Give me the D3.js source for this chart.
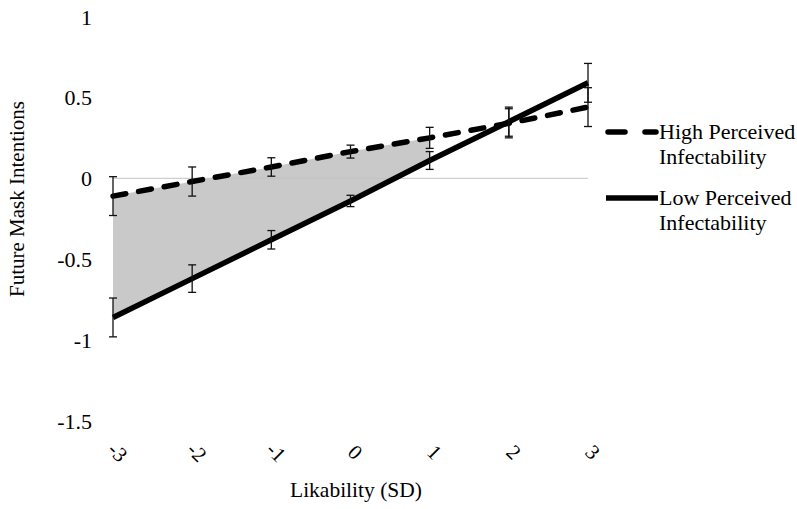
<!DOCTYPE html>
<html><head><meta charset="utf-8">
<script src="https://cdn.jsdelivr.net/npm/d3@7/dist/d3.min.js"></script>
<style>body{margin:0;background:#fff;} text{font-family:"Liberation Serif","DejaVu Serif",serif;fill:#000;}</style>
</head><body>
<svg id="c" width="797" height="509"></svg>
<script>
const xTicks = [-3, -2, -1, 0, 1, 2, 3];
const yTicks = [1, 0.5, 0, -0.5, -1, -1.5];
const yTickLabels = ["1", "0.5", "0", "-0.5", "-1", "-1.5"];
const highValues = [-0.11, -0.02, 0.07, 0.165, 0.25, 0.34, 0.44];
const highErr = [0.12, 0.09, 0.057, 0.04, 0.065, 0.09, 0.12];
const lowValues = [-0.86, -0.62, -0.38, -0.14, 0.11, 0.35, 0.59];
const lowErr = [0.12, 0.085, 0.057, 0.035, 0.055, 0.09, 0.12];
const regionEnd = 1;
const seriesNames = [["High Perceived", "Infectability"], ["Low Perceived", "Infectability"]];

const svg = d3.select("#c");
const x = d3.scaleLinear().domain([-3, 3]).range([113, 588]);
const y = d3.scaleLinear().domain([-1.5, 1]).range([421, 16.5]);

// shaded region
const idx = xTicks.map((d, i) => i).filter(i => xTicks[i] <= regionEnd);
const poly = idx.map(i => [x(xTicks[i]), y(highValues[i])])
  .concat(idx.slice().reverse().map(i => [x(xTicks[i]), y(lowValues[i])]));
svg.append("path").attr("d", "M" + poly.join("L") + "Z").attr("fill", "#c9c9c9");

// zero gridline
svg.append("line").attr("x1", x(-3)).attr("x2", x(3)).attr("y1", y(0)).attr("y2", y(0))
  .attr("stroke", "#c4c4c4").attr("stroke-width", 1);

// y tick labels
svg.selectAll(".yt").data(yTicks).enter().append("text")
  .attr("x", 92).attr("y", d => y(d) + 8).attr("text-anchor", "end")
  .attr("font-size", 22).text((d, i) => yTickLabels[i]);

// x tick labels rotated
svg.selectAll(".xt").data(xTicks).enter().append("text")
  .attr("transform", d => `translate(${x(d) + 5},${452}) rotate(45)`)
  .attr("text-anchor", "middle").attr("dy", "0.35em")
  .attr("font-size", 21).text(d => d);

// axis titles
svg.append("text").attr("x", 356).attr("y", 497).attr("text-anchor", "middle")
  .attr("font-size", 21.5).text("Likability (SD)");
svg.append("text").attr("transform", "translate(24,199) rotate(-90)").attr("text-anchor", "middle")
  .attr("font-size", 21).text("Future Mask Intentions");

const line = d3.line().x((d, i) => x(xTicks[i])).y(d => y(d));

// lines
svg.append("path").attr("d", line(lowValues)).attr("fill", "none").attr("stroke", "#000")
  .attr("stroke-width", 5.5);
svg.append("path").attr("d", line(highValues)).attr("fill", "none").attr("stroke", "#000")
  .attr("stroke-width", 5.5).attr("stroke-dasharray", "13,13").attr("stroke-linecap", "round");

// error bars
function errBars(vals, errs) {
  const g = svg.append("g").attr("stroke", "#111").attr("stroke-width", 1.3);
  vals.forEach((v, i) => {
    const cx = x(xTicks[i]);
    const t = y(v + errs[i]), b = y(v - errs[i]);
    g.append("line").attr("x1", cx).attr("x2", cx).attr("y1", t).attr("y2", b);
    g.append("line").attr("x1", cx - 4).attr("x2", cx + 4).attr("y1", t).attr("y2", t);
    g.append("line").attr("x1", cx - 4).attr("x2", cx + 4).attr("y1", b).attr("y2", b);
  });
}
errBars(highValues, highErr);
errBars(lowValues, lowErr);

// legend
const lg = svg.append("g");
lg.append("line").attr("x1", 608).attr("x2", 656).attr("y1", 132).attr("y2", 132)
  .attr("stroke", "#000").attr("stroke-width", 5.5).attr("stroke-dasharray", "17,20").attr("stroke-linecap", "round");
lg.append("line").attr("x1", 606).attr("x2", 658).attr("y1", 198).attr("y2", 198)
  .attr("stroke", "#000").attr("stroke-width", 5.5);
[[132], [198]].forEach((p, k) => {
  const t = lg.append("text").attr("x", 659).attr("y", p[0] + 7).attr("font-size", 22);
  t.append("tspan").attr("x", 659).text(seriesNames[k][0]);
  t.append("tspan").attr("x", 659).attr("dy", 25).text(seriesNames[k][1]);
});
</script>
</body></html>
